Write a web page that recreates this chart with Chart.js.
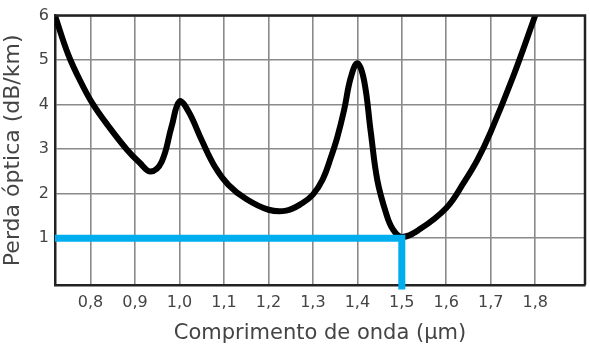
<!DOCTYPE html>
<html>
<head>
<meta charset="utf-8">
<script src="https://cdn.jsdelivr.net/npm/chart.js@4"></script>
<style>
  html, body { margin: 0; padding: 0; background: #ffffff; }
  #wrap { width: 590px; height: 352px; }
</style>
</head>
<body>
<div id="wrap"><canvas id="c" width="590" height="352"></canvas></div>
<script>
// Wavelength (µm) and optical loss (dB/km)
const wavelengths = [0.72, 0.75, 0.78, 0.806, 0.84, 0.881, 0.91, 0.935, 0.96, 0.982, 1.0, 1.02, 1.05, 1.08, 1.11, 1.15, 1.2, 1.24, 1.275, 1.3, 1.322, 1.34, 1.355, 1.37, 1.385, 1.4, 1.415, 1.43, 1.445, 1.465, 1.48, 1.5, 1.54, 1.6, 1.64, 1.67, 1.7, 1.75, 1.8];
const losses      = [6.0, 5.12, 4.47, 4.0, 3.52, 3.0, 2.7, 2.5, 2.72, 3.5, 4.07, 3.85, 3.2, 2.6, 2.2, 1.88, 1.64, 1.62, 1.78, 1.98, 2.32, 2.8, 3.27, 3.87, 4.6, 4.93, 4.55, 3.4, 2.3, 1.55, 1.2, 1.03, 1.2, 1.68, 2.26, 2.76, 3.39, 4.62, 6.0];

// Highlight marker: loss 1 dB/km at 1.5 µm
const markerX = [0.72, 1.5, 1.5];
const markerY = [1, 1, -0.15];

const xTickValues = [0.8, 0.9, 1.0, 1.1, 1.2, 1.3, 1.4, 1.5, 1.6, 1.7, 1.8];
const xTickLabels = ['0,8', '0,9', '1,0', '1,1', '1,2', '1,3', '1,4', '1,5', '1,6', '1,7', '1,8'];
const yTickValues = [1, 2, 3, 4, 5, 6];
const yTickLabels = ['1', '2', '3', '4', '5', '6'];

const xTitle = 'Comprimento de onda (\u03bcm)';
const yTitle = 'Perda \u00f3ptica (dB/km)';

const curve = wavelengths.map((x, i) => ({ x: x, y: losses[i] }));
const marker = markerX.map((x, i) => ({ x: x, y: markerY[i] }));

new Chart(document.getElementById('c'), {
  type: 'scatter',
  data: {
    datasets: [
      {
        data: marker,
        showLine: true,
        borderColor: '#00aeef',
        borderWidth: 7,
        pointRadius: 0,
        tension: 0,
        borderJoinStyle: 'miter',
        borderCapStyle: 'butt',
        clip: false
      },
      {
        data: curve,
        showLine: true,
        borderColor: '#000000',
        borderWidth: 6,
        pointRadius: 0,
        tension: 0.4,
        borderCapStyle: 'round',
        borderJoinStyle: 'round'
      }
    ]
  },
  options: {
    responsive: false,
    animation: false,
    devicePixelRatio: 1,
    layout: { padding: { top: 12, right: 5, left: 0, bottom: 0 } },
    plugins: { legend: { display: false }, tooltip: { enabled: false } },
    scales: {
      x: {
        type: 'linear',
        min: 0.72,
        max: 1.912,
        afterBuildTicks: (s) => { s.ticks = xTickValues.map(v => ({ value: v })); },
        afterFit: (s) => { s.height = 67; },
        ticks: {
          callback: (v) => { const i = xTickValues.findIndex(t => Math.abs(t - v) < 1e-6); return i >= 0 ? xTickLabels[i] : ''; },
          color: '#444444',
          font: { family: 'DejaVu Sans', size: 16 },
          padding: 8,
          maxRotation: 0,
          autoSkip: false
        },
        grid: { color: '#8a8a8a', lineWidth: 1.6, drawTicks: false },
        border: { color: '#222222', width: 2.5 },
        title: {
          display: true,
          text: xTitle,
          color: '#444444',
          font: { family: 'DejaVu Sans', size: 21 },
          padding: { top: 4, bottom: 6 }
        }
      },
      y: {
        type: 'linear',
        min: -0.05,
        max: 6,
        afterBuildTicks: (s) => { s.ticks = yTickValues.map(v => ({ value: v })); },
        afterFit: (s) => { s.width = 55; },
        ticks: {
          callback: (v) => { const i = yTickValues.indexOf(v); return i >= 0 ? yTickLabels[i] : ''; },
          color: '#444444',
          font: { family: 'DejaVu Sans', size: 16 },
          padding: 6
        },
        grid: { color: '#8a8a8a', lineWidth: 1.6, drawTicks: false },
        border: { color: '#222222', width: 2.5 },
        title: {
          display: true,
          text: yTitle,
          color: '#444444',
          font: { family: 'DejaVu Sans', size: 22 },
          padding: { top: 0, bottom: 2 }
        }
      }
    }
  },
  plugins: [{
    id: 'frame',
    afterDatasetsDraw(chart) {
      const a = chart.chartArea, ctx = chart.ctx;
      ctx.save();
      ctx.strokeStyle = '#222222';
      ctx.lineWidth = 2.5;
      ctx.beginPath();
      ctx.moveTo(a.left, a.top);
      ctx.lineTo(a.right, a.top);
      ctx.lineTo(a.right, a.bottom);
      ctx.stroke();
      ctx.restore();
    }
  }]
});
</script>
</body>
</html>
